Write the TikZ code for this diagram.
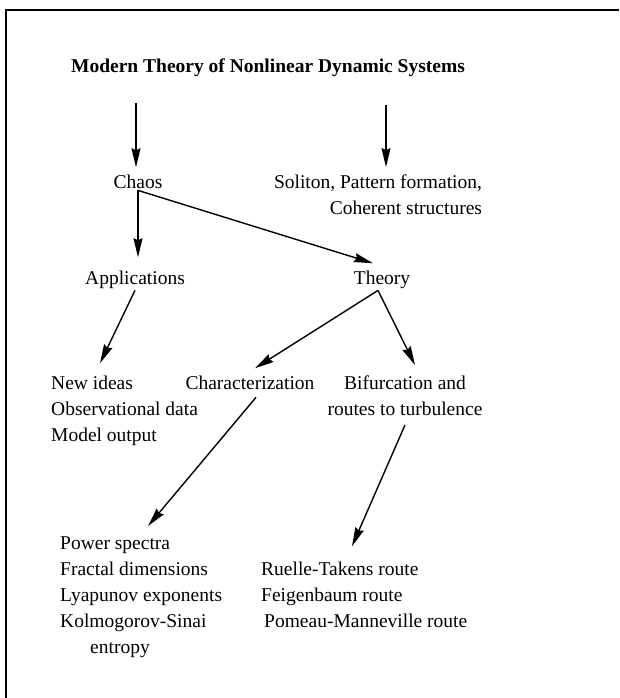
\documentclass[tikz,border=0pt]{standalone}
\usepackage{fontspec}
\setmainfont{Liberation Serif}
\usetikzlibrary{arrows.meta}

\begin{document}
\begin{tikzpicture}[x=1pt,y=-1pt,>={Stealth[length=19pt,width=9pt,inset=2pt]},
  every node/.style={inner sep=2pt,font=\fontsize{19.5}{26}\selectfont},
  lbl/.style={anchor=base},
  lst/.style={anchor=base west,align=left},
  arr/.style={->,line width=1.4pt}]
  \useasboundingbox (0,0) rectangle (619,698);
  % frame (only top and left edges survive)
  \draw[line width=1.2pt] (619,10) -- (6,10) -- (6,698);
  % title and free ends of its arrows
  \node[lbl,font=\fontsize{19.5}{26}\selectfont\bfseries] (title) at (268,73)
    {Modern Theory of Nonlinear Dynamic Systems};
  \coordinate (tl) at (136,103);
  \coordinate (tr) at (386,105);
  % first level
  \node[lbl] (chaos) at (138,188) {Chaos};
  \node[anchor=base,align=right] (soliton) at (378,214)
    {Soliton, Pattern formation,\\Coherent structures};
  % second level
  \node[lbl] (appl) at (135,284) {Applications};
  \node[lbl] (theory) at (382,284) {Theory};
  % third level (multi-line nodes sit on their last line)
  \node[lst] (ideas) at (49,441) {New ideas\\Observational data\\Model output};
  \node[lbl] (charac) at (250,389) {Characterization};
  \node[anchor=base,align=center] (bifurc) at (405,415)
    {Bifurcation and\\routes to turbulence};
  % bottom lists
  \node[lst] (spectra) at (58,653)
    {Power spectra\\Fractal dimensions\\Lyapunov exponents\\Kolmogorov-Sinai\\\hspace*{30pt}entropy};
  \node[lst] (routes) at (259,627)
    {Ruelle-Takens route\\Feigenbaum route\\\hspace*{3pt}Pomeau-Manneville route};
  % arrows (y runs downwards, so yshift>0 goes up)
  \draw[arr,shorten >=5pt] (tl) -- (tl |- chaos.north);
  \draw[arr,shorten >=5pt] (tr) -- (tr |- soliton.north);
  \draw[arr] (chaos.south) -- ([yshift=11pt]chaos.south |- appl.north);
  \draw[arr] (chaos.south) -- ([shift={(-9,-5)}]theory.north);
  \draw[arr] (appl.south) -- ([shift={(51,-10)}]ideas.north west);
  \draw[arr] ([xshift=-4pt]theory.south) -- ([shift={(5,-5)}]charac.north);
  \draw[arr] ([xshift=-4pt]theory.south) -- ([shift={(10,-8)}]bifurc.north);
  \draw[arr] ([shift={(6,6)}]charac.south) -- ([shift={(90,-8)}]spectra.north west);
  \draw[arr] ([yshift=-10pt]bifurc.base) -- ([shift={(93,-13)}]routes.north west);
\end{tikzpicture}
\end{document}
